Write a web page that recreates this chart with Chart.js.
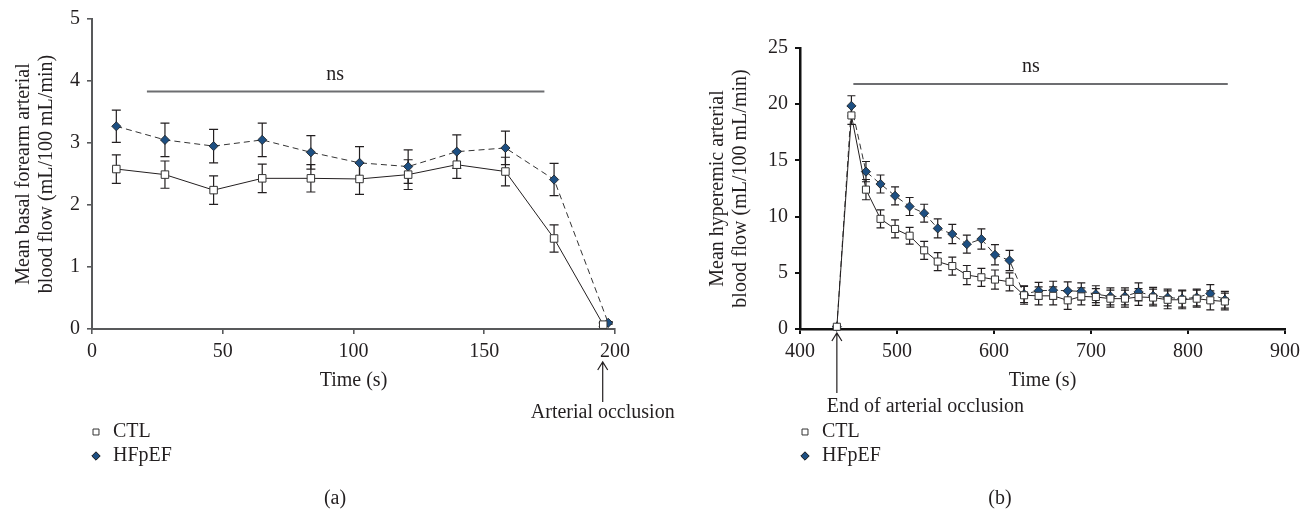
<!DOCTYPE html>
<html>
<head>
    <meta charset="utf-8">
    <title>Forearm arterial blood flow, CTL vs HFpEF</title>
    <script src="https://cdn.jsdelivr.net/npm/chart.js"></script>
    <style>
        body { margin: 0; background: #fff; }
        canvas { position: absolute; top: 0; }
        #basalChart { left: 0; }
        #hyperChart { left: 660px; }
    </style>
</head>
<body>
    <canvas id="basalChart" width="720" height="511"></canvas>
    <canvas id="hyperChart" width="651" height="511"></canvas>

    <script>
        // (a) basal flow, before the cuff is inflated
        const basalTimeCtl = [9.3, 27.9, 46.5, 65.1, 83.7, 102.3, 120.9, 139.5, 158.1, 176.7, 195.5];
        const basalTimeHf  = [9.3, 27.9, 46.5, 65.1, 83.7, 102.3, 120.9, 139.5, 158.1, 176.7, 197.4];
        const basalCtl     = [2.58, 2.49, 2.24, 2.43, 2.43, 2.42, 2.49, 2.65, 2.54, 1.46, 0.07];
        const basalCtlErr  = [0.23, 0.22, 0.23, 0.23, 0.22, 0.25, 0.24, 0.22, 0.23, 0.22, 0.03];
        const basalHf      = [3.27, 3.05, 2.95, 3.05, 2.85, 2.68, 2.62, 2.86, 2.92, 2.41, 0.10];
        const basalHfErr   = [0.26, 0.27, 0.27, 0.27, 0.27, 0.26, 0.27, 0.27, 0.27, 0.26, 0.02];

        // (b) reactive hyperemia after the cuff is released
        const hyperTime = [438, 453, 468, 483, 498, 513, 528, 542, 557, 572, 587, 601, 616, 631,
                           646, 661, 676, 690, 705, 720, 735, 749, 764, 779, 794, 809, 823, 838];
        const hyperCtl = [0.2, 19.0, 12.4, 9.8, 8.9, 8.3, 7.0, 6.0, 5.6, 4.8, 4.6, 4.4, 4.2, 3.0,
                          2.95, 2.95, 2.55, 2.9, 2.85, 2.7, 2.7, 2.85, 2.8, 2.6, 2.6, 2.7, 2.55, 2.45];
        const hyperCtlErr = [0.1, 0.8, 0.9, 0.8, 0.8, 0.75, 0.8, 0.8, 0.8, 0.85, 0.8, 0.85, 0.8, 0.8,
                             0.8, 0.8, 0.8, 0.75, 0.75, 0.75, 0.75, 0.75, 0.75, 0.8, 0.8, 0.75, 0.85, 0.75];
        const hyperHf = [0.2, 19.85, 14.0, 12.9, 11.85, 10.9, 10.3, 8.95, 8.45, 7.55, 8.0, 6.6, 6.1, 3.1,
                         3.4, 3.45, 3.4, 3.35, 3.1, 2.9, 2.9, 3.3, 2.95, 2.8, 2.7, 2.8, 3.15, 2.6];
        const hyperHfErr = [0.1, 0.9, 0.9, 0.8, 0.8, 0.8, 0.8, 0.85, 0.85, 0.8, 0.9, 0.9, 0.9, 0.75,
                            0.75, 0.8, 0.8, 0.75, 0.75, 0.75, 0.75, 0.8, 0.75, 0.75, 0.75, 0.75, 0.8, 0.75];

        const serif = '"Liberation Serif", "Times New Roman", serif';
        const ink = '#231f20';
        const hfBlue = '#1d4f82';
        const textSize = 20;

        const toPoints = (xs, ys) => xs.map((x, i) => ({ x: x, y: ys[i] }));

        const ctlSeries = (xs, ys, errs, radius) => ({
            label: 'CTL',
            data: toPoints(xs, ys),
            errors: errs,
            showLine: true,
            borderColor: ink,
            borderWidth: 1,
            pointStyle: 'rect',
            pointRadius: radius,
            pointBackgroundColor: '#fff',
            pointBorderColor: '#333',
            pointBorderWidth: 1,
            order: 0,
            clip: false
        });

        const hfSeries = (xs, ys, errs, radius) => ({
            label: 'HFpEF',
            data: toPoints(xs, ys),
            errors: errs,
            showLine: true,
            borderColor: '#333',
            borderWidth: 1,
            borderDash: [6, 4],
            pointStyle: 'rectRot',
            pointRadius: radius,
            pointBackgroundColor: hfBlue,
            pointBorderColor: '#1a1a1a',
            pointBorderWidth: 0.8,
            order: 1,
            clip: false
        });

        // error bars, "ns" bracket, occlusion arrow, legend and panel letter
        const panelExtras = {
            id: 'panelExtras',
            beforeDatasetsDraw(chart, args, opts) {
                const ctx = chart.ctx;
                const xs = chart.scales.x, ys = chart.scales.y;
                ctx.save();
                ctx.strokeStyle = ink;
                ctx.lineWidth = 1.2;
                chart.data.datasets.forEach(ds => {
                    ds.data.forEach((p, i) => {
                        const e = ds.errors[i];
                        const px = xs.getPixelForValue(p.x);
                        const top = ys.getPixelForValue(p.y + e);
                        const bot = ys.getPixelForValue(p.y - e);
                        ctx.beginPath();
                        ctx.moveTo(px, top); ctx.lineTo(px, bot);
                        ctx.moveTo(px - opts.cap, top); ctx.lineTo(px + opts.cap, top);
                        ctx.moveTo(px - opts.cap, bot); ctx.lineTo(px + opts.cap, bot);
                        ctx.stroke();
                    });
                });
                ctx.restore();
            },
            afterDraw(chart, args, opts) {
                const ctx = chart.ctx;
                const xs = chart.scales.x, ys = chart.scales.y;
                const bottom = chart.chartArea.bottom;
                ctx.save();
                ctx.font = textSize + 'px ' + serif;
                ctx.fillStyle = ink;
                ctx.textBaseline = 'middle';

                // ns bracket
                const ns = opts.ns;
                const nsY = ys.getPixelForValue(ns.y);
                ctx.strokeStyle = '#6d6e71';
                ctx.lineWidth = 2;
                ctx.beginPath();
                ctx.moveTo(xs.getPixelForValue(ns.from), nsY);
                ctx.lineTo(xs.getPixelForValue(ns.to), nsY);
                ctx.stroke();
                ctx.textAlign = 'center';
                ctx.fillText('ns', xs.getPixelForValue(ns.labelX), nsY - 17);

                // occlusion arrow
                const ar = opts.arrow;
                const ax = xs.getPixelForValue(ar.x);
                ctx.strokeStyle = ink;
                ctx.lineWidth = 1.2;
                ctx.beginPath();
                ctx.moveTo(ax, bottom + ar.top);
                ctx.lineTo(ax, bottom + ar.end);
                ctx.moveTo(ax - 5, bottom + ar.top + 8);
                ctx.lineTo(ax, bottom + ar.top);
                ctx.lineTo(ax + 5, bottom + ar.top + 8);
                ctx.stroke();
                ctx.textAlign = ar.align;
                ctx.fillText(ar.text, ax + ar.dx, bottom + ar.textY);

                // legend
                const lg = opts.legend;
                chart.data.datasets.forEach((ds, i) => {
                    const ly = lg.y + i * 24;
                    ctx.fillStyle = ds.pointBackgroundColor;
                    ctx.strokeStyle = ds.pointBorderColor;
                    ctx.lineWidth = 1;
                    Chart.helpers.drawPoint(ctx, {
                        pointStyle: ds.pointStyle, radius: 4.2, rotation: 0, borderWidth: 1
                    }, lg.x, ly);
                    ctx.fillStyle = ink;
                    ctx.textAlign = 'left';
                    ctx.fillText(ds.label, lg.x + 17, ly);
                });

                // panel letter
                ctx.textAlign = 'center';
                ctx.fillText(opts.letter.text, opts.letter.x, 499);
                ctx.restore();
            }
        };

        const axisX = (min, max, step, color, width) => ({
            type: 'linear',
            min: min, max: max,
            border: { color: color, width: width },
            grid: { drawOnChartArea: false, color: color, lineWidth: width * 0.8, tickLength: 5 },
            ticks: { stepSize: step, padding: 6, color: ink, font: { family: serif, size: textSize } },
            title: { display: true, text: 'Time (s)', color: ink,
                     font: { family: serif, size: textSize, lineHeight: 1.2 }, padding: { top: 0, bottom: 118 } },
            afterFit(scale) { scale.height = 182; }
        });

        const axisY = (max, step, titleLines, axisWidth, titlePad, color, width) => ({
            min: 0, max: max,
            border: { color: color, width: width },
            grid: { drawOnChartArea: false, color: color, lineWidth: width * 0.8, tickLength: 5 },
            ticks: { stepSize: step, padding: 7, color: ink, font: { family: serif, size: textSize } },
            title: { display: true, text: titleLines, color: ink,
                     font: { family: serif, size: textSize, lineHeight: 1.15 }, padding: { top: titlePad, bottom: 0 } },
            afterFit(scale) { scale.width = axisWidth; }
        });

        const baseOptions = (padding, scales, extras) => ({
            responsive: false,
            animation: false,
            layout: { padding: padding },
            scales: scales,
            plugins: {
                legend: { display: false },
                tooltip: { enabled: false },
                panelExtras: extras
            }
        });

        new Chart(document.getElementById('basalChart'), {
            type: 'scatter',
            data: {
                datasets: [
                    ctlSeries(basalTimeCtl, basalCtl, basalCtlErr, 5.3),
                    hfSeries(basalTimeHf, basalHf, basalHfErr, 4.6)
                ]
            },
            options: baseOptions(
                { top: 16, right: 105, bottom: 0, left: 0 },
                {
                    x: axisX(0, 200, 50, '#58595b', 2),
                    y: axisY(5, 1, ['Mean basal forearm arterial', 'blood flow (mL/100 mL/min)'], 92, 12, '#58595b', 2)
                },
                {
                    cap: 4.5,
                    ns: { from: 21, to: 173, y: 3.83, labelX: 93 },
                    arrow: { x: 195.3, top: 33, end: 73, text: 'Arterial occlusion', align: 'center', dx: 0, textY: 84 },
                    legend: { x: 96, y: 432 },
                    letter: { text: '(a)', x: 335 }
                }
            ),
            plugins: [panelExtras]
        });

        new Chart(document.getElementById('hyperChart'), {
            type: 'scatter',
            data: {
                datasets: [
                    ctlSeries(hyperTime, hyperCtl, hyperCtlErr, 5.0),
                    hfSeries(hyperTime, hyperHf, hyperHfErr, 4.6)
                ]
            },
            options: baseOptions(
                { top: 48, right: 26, bottom: 0, left: 0 },
                {
                    x: axisX(400, 900, 100, '#111', 2.5),
                    y: axisY(25, 5, ['Mean hyperemic arterial', 'blood flow (mL/100 mL/min)'], 140, 46, '#111', 2.5)
                },
                {
                    cap: 4,
                    ns: { from: 455, to: 841, y: 21.8, labelX: 638 },
                    arrow: { x: 438, top: 4, end: 64, text: 'End of arterial occlusion', align: 'left', dx: -10, textY: 78 },
                    legend: { x: 145, y: 432 },
                    letter: { text: '(b)', x: 340 }
                }
            ),
            plugins: [panelExtras]
        });
    </script>
</body>
</html>
